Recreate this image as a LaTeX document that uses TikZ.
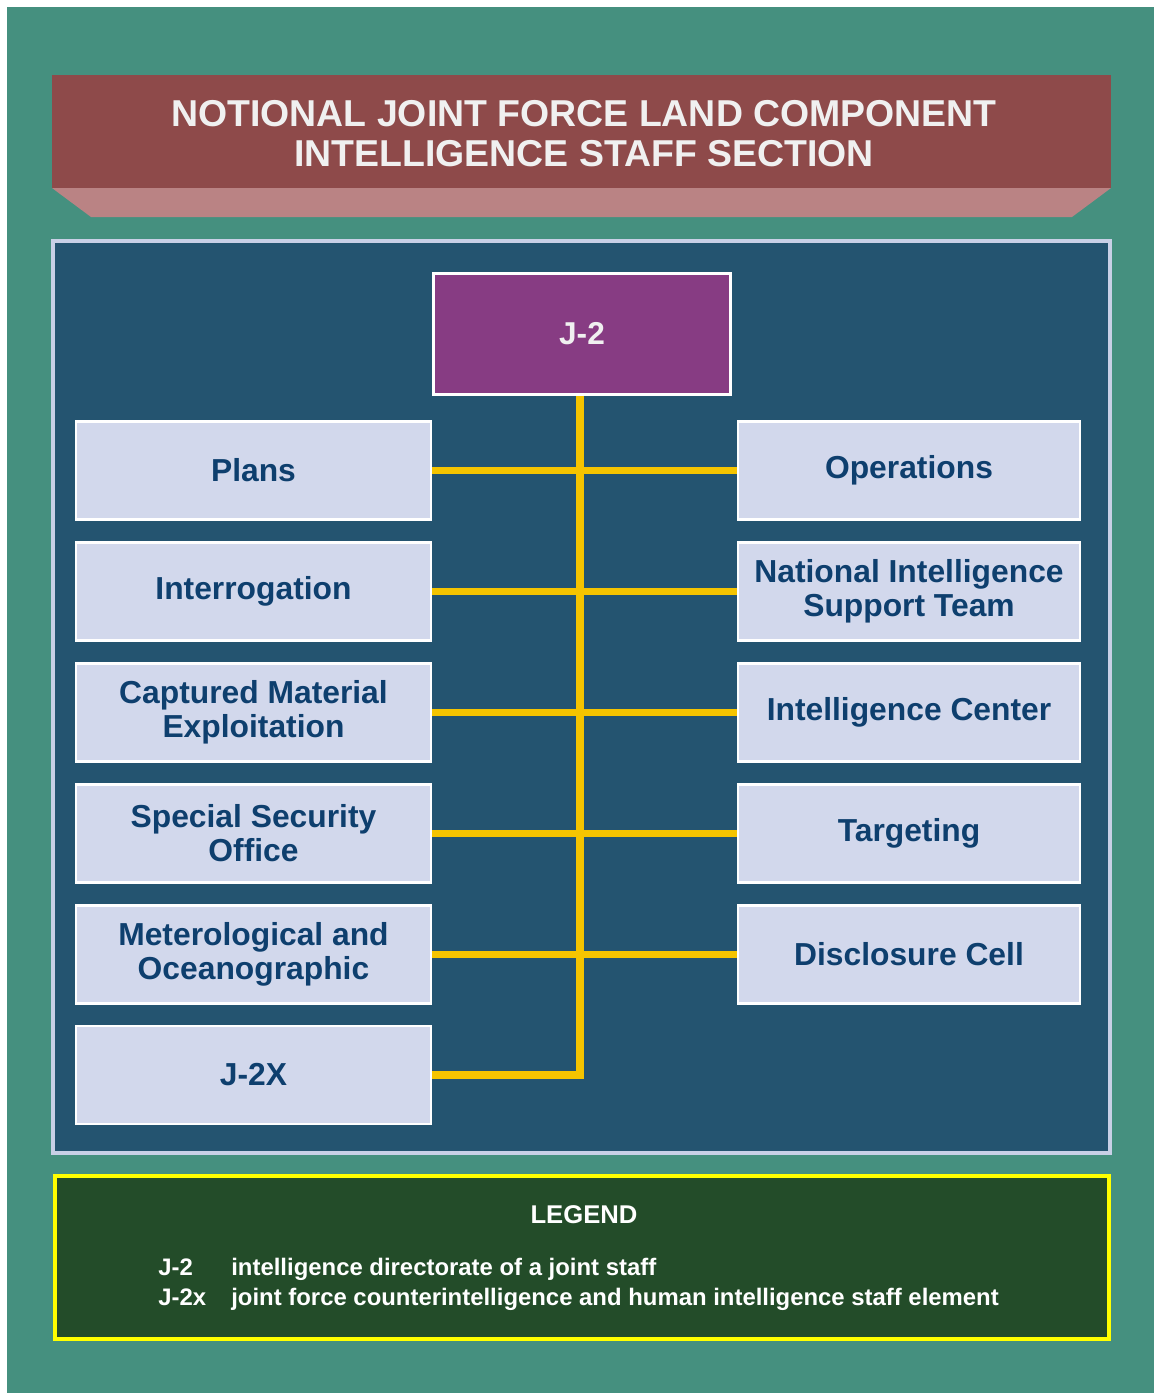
\documentclass[tikz,border=0pt]{standalone}
\usepackage{fontspec}
\setmainfont{Liberation Sans}
\usepackage{tikz}
\definecolor{bggreen}{HTML}{45907F}
\definecolor{titlered}{HTML}{8E4A4A}
\definecolor{titlepink}{HTML}{BA8384}
\definecolor{panelblue}{HTML}{245470}
\definecolor{panelrim}{HTML}{C8D0E6}
\definecolor{j2purple}{HTML}{873C83}
\definecolor{boxfill}{HTML}{D2D8EC}
\definecolor{boxtext}{HTML}{0E3F6E}
\definecolor{linkyellow}{HTML}{F5C400}
\definecolor{legendgreen}{HTML}{234C29}
\definecolor{legendrim}{HTML}{FFFF00}
\definecolor{lighttext}{HTML}{F0F0F0}

\begin{document}
\begin{tikzpicture}[x=0.02cm, y=-0.02cm,
  leftbox/.style={shape=rectangle, draw=white, line width=1.5pt, fill=boxfill,
    minimum width=7.1cm, minimum height=1.96cm, inner sep=0pt, align=center,
    text=boxtext, font=\fontsize{18.1}{19.3}\selectfont\bfseries},
  rightbox/.style={leftbox, minimum width=6.84cm},
  legendtext/.style={anchor=base west, inner sep=0pt, text=white,
    font=\fontsize{13.6}{15}\selectfont\bfseries},
  link/.style={draw=linkyellow, line width=4.5pt}]
\useasboundingbox (0,0) rectangle (1154,1393);
\fill [white] (0,0) rectangle (1154,1393);
\fill [bggreen] (7,7) rectangle (1154,1393);
\fill [titlepink] (52,188) -- (1111,188) -- (1072,217) -- (91,217) -- cycle;
\fill [titlered] (52,75) rectangle (1111,188);
\node at (584,133.5) [align=center, text=lighttext,
  font=\fontsize{21.3}{22.7}\selectfont\bfseries] (title)
  {NOTIONAL JOINT FORCE LAND COMPONENT\\INTELLIGENCE STAFF SECTION};
\node at (581.5,697) [shape=rectangle, fill=panelblue, draw=panelrim, line width=2.2pt,
  minimum width=21.14cm, minimum height=18.24cm] (panel) {};
\node at (582,334) [shape=rectangle, draw=white, line width=1.7pt, fill=j2purple,
  minimum width=5.94cm, minimum height=2.42cm, text=lighttext,
  font=\fontsize{18}{19.3}\selectfont\bfseries] (j2) {J-2};
\node at (253.5,470.5) [leftbox] (plans) {Plans};
\node at (253.5,591.5) [leftbox] (interr) {Interrogation};
\node at (253.5,712.5) [leftbox] (cme) {Captured Material\\Exploitation};
\node at (253.5,833.5) [leftbox] (sso) {Special Security\\Office};
\node at (253.5,954.5) [leftbox] (metoc) {Meterological and\\Oceanographic};
\node at (253.5,1075) [leftbox] (j2x) {J-2X};
\node at (909,470.5) [rightbox] (ops) {Operations};
\node at (909,591.5) [rightbox] (nist) {National Intelligence\\Support Team};
\node at (909,712.5) [rightbox] (ic) {Intelligence Center};
\node at (909,833.5) [rightbox] (tgt) {Targeting};
\node at (909,954.5) [rightbox] (dc) {Disclosure Cell};
\coordinate (spine) at (580,396);
\draw [link] (spine) -- (spine |- j2x.east) -- (j2x.east);
\draw [link] (plans) to (ops);
\draw [link] (interr) to (nist);
\draw [link] (cme) to (ic);
\draw [link] (sso) to (tgt);
\draw [link] (metoc) to (dc);
\node at (582,1257.5) [shape=rectangle, fill=legendgreen, draw=legendrim, line width=2.2pt,
  minimum width=21.1cm, minimum height=3.26cm] (legend) {};
\node at (584,1215) [text=white, font=\fontsize{14.6}{16}\selectfont\bfseries] (legendhead) {LEGEND};
\node at (158,1275) [legendtext] (abbr1) {J-2};
\node at (231,1275) [legendtext] (def1) {intelligence directorate of a joint staff};
\node at (158,1305) [legendtext] (abbr2) {J-2x};
\node at (231,1305) [legendtext] (def2) {joint force counterintelligence and human intelligence staff element};
\end{tikzpicture}
\end{document}
